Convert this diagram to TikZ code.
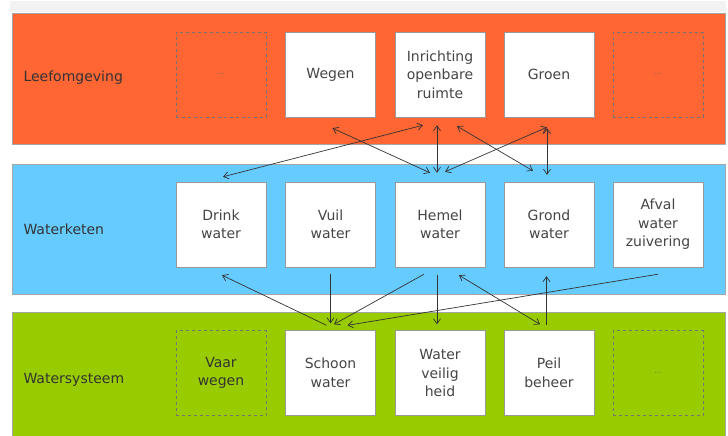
\documentclass[tikz,border=0pt]{standalone}
\usepackage{fontspec}
\setmainfont{DejaVu Sans}
\usetikzlibrary{arrows.meta}
\definecolor{leefrood}{HTML}{FF6633}
\definecolor{ketenblauw}{HTML}{66CCFF}
\definecolor{systeemgroen}{HTML}{99CC00}
\definecolor{tekstgrijs}{HTML}{454545}
\definecolor{pijlgrijs}{HTML}{333333}
\tikzset{
  vak/.style={draw=gray!80, fill=white, minimum width=90pt, minimum height=85pt,
    align=center, text=tekstgrijs, font=\fontsize{14}{18.5}\selectfont, inner sep=0pt},
  leegvak/.style={vak, fill=none, dashed, draw=black!55},
  laag/.style={anchor=west, text=black!80, font=\fontsize{14}{18}\selectfont},
  pijl/.style={-{Straight Barb[length=5pt,width=7pt]}, draw=pijlgrijs, line width=0.7pt},
  tweepijl/.style={{Straight Barb[length=5pt,width=7pt]}-{Straight Barb[length=5pt,width=7pt]}, draw=pijlgrijs, line width=0.7pt},
}
\begin{document}
\begin{tikzpicture}[x=1pt, y=-1pt]
    \useasboundingbox (0,0) rectangle (728,436);
    % lagen
    \fill[black!5] (10,1) rectangle (726,12);
    \draw[fill=leefrood, draw=gray!70] (12,13) rectangle (725,144);
    \draw[fill=ketenblauw, draw=gray!70] (12,164) rectangle (725,294);
    \draw[fill=systeemgroen, draw=gray!70] (12,312) rectangle (725,440);
    \node [laag] (leef) at (20,78) {Leefomgeving};
    \node [laag] (keten) at (20,229) {Waterketen};
    \node [laag] (systeem) at (20,380) {Watersysteem};
    % leefomgeving
    \node [leegvak, font=\fontsize{7}{8}\selectfont, text=black!60] (leefa) at (221,74.5) {...};
    \node [vak] (wegen) at (330.5,74.5) {Wegen};
    \node [vak] (inr) at (440,74.5) {Inrichting\\openbare\\ruimte};
    \node [vak] (groen) at (549,74.5) {Groen};
    \node [leegvak, font=\fontsize{7}{8}\selectfont, text=black!60] (leefb) at (658,74.5) {...};
    % waterketen
    \node [vak] (drink) at (221,224.5) {Drink\\water};
    \node [vak] (vuil) at (330.5,224.5) {Vuil\\water};
    \node [vak] (hemel) at (440,224.5) {Hemel\\water};
    \node [vak] (grond) at (549,224.5) {Grond\\water};
    \node [vak] (afval) at (658,224.5) {Afval\\water\\zuivering};
    % watersysteem
    \node [leegvak, text=black!80] (vaar) at (221,373) {Vaar\\wegen};
    \node [vak] (schoon) at (330.5,373) {Schoon\\water};
    \node [vak] (veilig) at (440,373) {Water\\veilig\\heid};
    \node [vak] (peil) at (549,373) {Peil\\beheer};
    \node [leegvak, font=\fontsize{7}{8}\selectfont, text=black!60] (systb) at (658,373) {...};
    % pijlen boven
    \draw[tweepijl] ([xshift=2pt,yshift=-11pt]wegen.south) -- ([xshift=-10pt,yshift=9pt]hemel.north);
    \draw[tweepijl] ([xshift=-17pt,yshift=-8pt]inr.south) -- ([xshift=2pt,yshift=5pt]drink.north);
    \draw[tweepijl] ([xshift=-3pt,yshift=-8pt]inr.south) -- ([xshift=-3pt,yshift=9pt]hemel.north);
    \draw[tweepijl] ([xshift=17pt,yshift=-9pt]inr.south) -- ([xshift=-16pt,yshift=11pt]grond.north);
    \draw[tweepijl] ([xshift=-2pt,yshift=-10pt]groen.south) -- ([xshift=5pt,yshift=10pt]hemel.north);
    \draw[tweepijl] ([xshift=-2pt,yshift=-11pt]groen.south) -- ([xshift=-2pt,yshift=7pt]grond.north);
    % pijlen onder
    \draw[pijl] ([xshift=-4pt,yshift=5pt]schoon.north) -- ([xshift=1pt,yshift=-8pt]drink.south);
    \draw[pijl] ([yshift=-7pt]vuil.south) -- ([yshift=7pt]schoon.north);
    \draw[pijl] ([xshift=-16pt,yshift=-7pt]hemel.south) -- ([xshift=3.5pt,yshift=6pt]schoon.north);
    \draw[pijl] ([xshift=-3pt,yshift=-8pt]hemel.south) -- ([xshift=-3pt,yshift=6pt]veilig.north);
    \draw[tweepijl] ([xshift=19pt,yshift=-8pt]hemel.south) -- ([xshift=-9pt,yshift=6pt]peil.north);
    \draw[pijl] ([xshift=-2.5pt,yshift=5pt]peil.north) -- ([xshift=-2.5pt,yshift=-9pt]grond.south);
    \draw[pijl] ([yshift=-7pt]afval.south) -- ([xshift=17pt,yshift=5pt]schoon.north);
\end{tikzpicture}
\end{document}
